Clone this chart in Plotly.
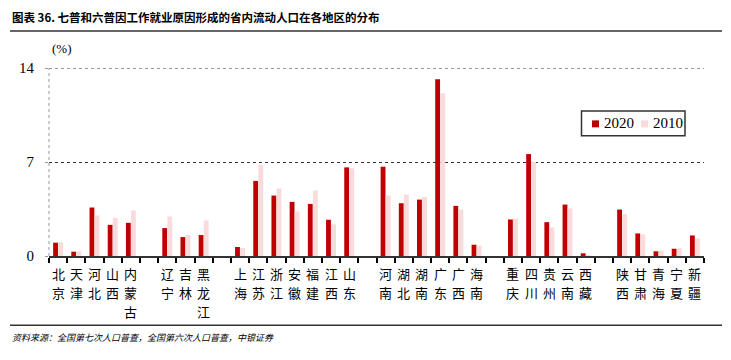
import plotly.graph_objects as go

categories = ["北京", "天津", "河北", "山西", "内蒙古", " ",
              "辽宁", "吉林", "黑龙江", "  ",
              "上海", "江苏", "浙江", "安徽", "福建", "江西", "山东", "   ",
              "河南", "湖北", "湖南", "广东", "广西", "海南", "    ",
              "重庆", "四川", "贵州", "云南", "西藏", "     ",
              "陕西", "甘肃", "青海", "宁夏", "新疆"]

v2020 = [0.99, 0.32, 3.61, 2.32, 2.47, None,
         2.08, 1.41, 1.56, None,
         0.67, 5.59, 4.50, 4.03, 3.88, 2.70, 6.60, None,
         6.65, 3.93, 4.20, 13.16, 3.73, 0.84, None,
         2.72, 7.59, 2.52, 3.83, 0.20, None,
         3.46, 1.68, 0.35, 0.54, 1.53]

v2010 = [1.04, 0.35, 3.02, 2.84, 3.39, None,
         2.94, 1.58, 2.65, None,
         0.59, 6.80, 5.02, 3.31, 4.87, 2.35, 6.53, None,
         4.50, 4.58, 4.40, 12.12, 3.46, 0.77, None,
         2.79, 7.00, 2.13, 3.54, 0.03, None,
         3.12, 1.61, 0.40, 0.57, 1.31]

y_ticks = [0, 7, 14]
series_names = ["2020", "2010"]
series_colors = ["#C00000", "#FADADB"]

W, H = 731, 360
L, R, T, B = 49, 27, 68, 103.5
pw, ph = W - L - R, H - T - B

def px(x):
    return (x - L) / pw

def py(y):
    return (H - B - y) / ph

CJK = "Noto Sans CJK SC"
SERIF = "Liberation Serif"

fig = go.Figure()
for name, vals, col in zip(series_names, [v2020, v2010], series_colors):
    fig.add_trace(go.Bar(x=categories, y=vals, name=name, showlegend=False,
                         marker=dict(color=col, line=dict(width=0))))

fig.update_layout(
    width=W, height=H,
    margin=dict(l=L, r=R, t=T, b=B, pad=0),
    plot_bgcolor="white", paper_bgcolor="white",
    barmode="group", bargap=0.44, bargroupgap=0.05,
    showlegend=False,
    xaxis=dict(type="category", tickson="boundaries", ticks="outside", ticklen=5,
               tickcolor="black", tickwidth=1.5, showline=True, linecolor="#333333", linewidth=1.5,
               showticklabels=False, showgrid=False, fixedrange=True),
    yaxis=dict(range=[0, 14], tickvals=y_ticks, ticktext=[str(v) for v in y_ticks],
               showgrid=True, gridcolor="#333333", griddash="dot", gridwidth=1,
               zeroline=False, showline=False, ticks="outside", ticklen=3, tickcolor="#999999",
               ticklabelstandoff=8,
               tickfont=dict(family=SERIF, size=15, color="black"), fixedrange=True),
    font=dict(family=CJK, color="black"),
)

# vertical category labels, one character per row
for cat in categories:
    for j, ch in enumerate(cat.strip()):
        fig.add_annotation(xref="x", yref="paper", x=cat, y=py(274 + 19.3 * j),
                           xanchor="center", yanchor="middle", text=ch, showarrow=False,
                           font=dict(family=CJK, size=13, color="black"))

# top gridline (edge gridline is not drawn by plotly)
fig.add_shape(type="line", xref="paper", yref="y", x0=0, x1=1, y0=y_ticks[-1], y1=y_ticks[-1],
              line=dict(color="#333333", width=1, dash="dot"))
# dotted y-axis line
fig.add_shape(type="line", xref="paper", yref="paper", x0=0, x1=0, y0=0, y1=1,
              line=dict(color="#999999", width=1, dash="dot"))
# title rule and bottom rule
for yy in (31, 326):
    fig.add_shape(type="line", xref="paper", yref="paper", x0=px(10), x1=px(722),
                  y0=py(yy), y1=py(yy), layer="above",
                  line=dict(color="#333333", width=1.5))

# legend box
fig.add_shape(type="rect", xref="paper", yref="paper", x0=px(581.5), x1=px(685), y0=py(111), y1=py(136),
              line=dict(color="#333333", width=1.5), fillcolor="white")
for sx, tx, name, col in zip([592, 641], [601.5, 651], series_names, series_colors):
    fig.add_shape(type="rect", xref="paper", yref="paper", x0=px(sx), x1=px(sx + 7),
                  y0=py(120.5), y1=py(127.5), line=dict(width=0), fillcolor=col)
    fig.add_annotation(xref="paper", yref="paper", x=px(tx), y=py(123.5), xanchor="left", yanchor="middle",
                       text=name, showarrow=False, font=dict(family=SERIF, size=15, color="black"))

fig.add_annotation(xref="paper", yref="paper", x=px(10), y=py(17), xanchor="left", yanchor="middle",
                   text="<b>图表 36. 七普和六普因工作就业原因形成的省内流动人口在各地区的分布</b>",
                   showarrow=False, font=dict(family=CJK, size=11.5, color="black"))
fig.add_annotation(xref="paper", yref="paper", x=px(62), y=py(48), xanchor="center", yanchor="middle",
                   text="(%)", showarrow=False, font=dict(family=SERIF, size=13, color="black"))
fig.add_annotation(xref="paper", yref="paper", x=px(10), y=py(338), xanchor="left", yanchor="middle",
                   text="<i>资料来源：全国第七次人口普查，全国第六次人口普查，中银证券</i>",
                   showarrow=False, font=dict(family=CJK, size=9, color="black"))

fig.write_html("out.html", config={"displayModeBar": False},
               post_script="document.body.style.margin='0px';")
